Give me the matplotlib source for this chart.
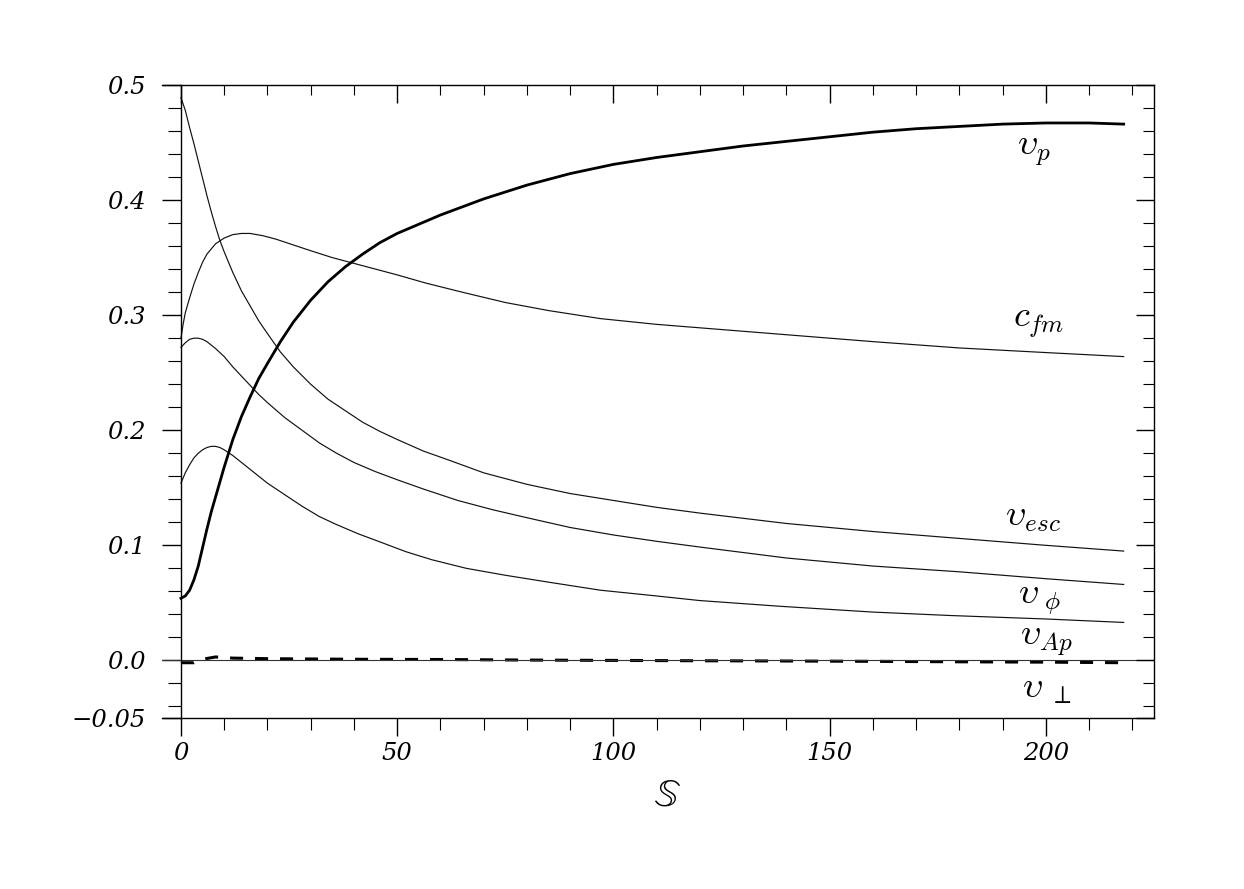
import matplotlib
matplotlib.use("Agg")
import matplotlib.pyplot as plt
from matplotlib.ticker import FixedLocator

plt.rcParams['mathtext.fontset'] = 'cm'
plt.rcParams['lines.scale_dashes'] = False

# ---- data ----
vp_x = [0, 1, 2, 3, 4, 5, 6, 7, 8, 9, 10, 12, 14, 16, 18, 20, 23, 26, 30, 34, 38, 42, 46, 50, 55, 60, 65, 70, 75, 80, 90, 100, 110, 120, 130, 140, 150, 160, 170, 180, 190, 200, 210, 218]
vp_y = [0.054, 0.056, 0.061, 0.070, 0.082, 0.098, 0.114, 0.129, 0.142, 0.155, 0.168, 0.192, 0.212, 0.229, 0.245, 0.258, 0.277, 0.294, 0.313, 0.329, 0.342, 0.353, 0.363, 0.371, 0.379, 0.387, 0.394, 0.401, 0.407, 0.413, 0.423, 0.431, 0.437, 0.442, 0.447, 0.451, 0.455, 0.459, 0.462, 0.464, 0.466, 0.467, 0.467, 0.466]

cfm_x = [0, 0.5, 1, 2, 3, 4, 5, 6, 8, 10, 12, 14, 16, 19, 22, 26, 30, 35, 40, 45, 50, 56.5, 65, 75, 85, 97, 110, 120, 140, 160, 180, 200, 218]
cfm_y = [0.280, 0.292, 0.302, 0.315, 0.327, 0.337, 0.346, 0.353, 0.362, 0.367, 0.370, 0.371, 0.371, 0.369, 0.366, 0.361, 0.356, 0.350, 0.345, 0.340, 0.335, 0.328, 0.320, 0.311, 0.304, 0.297, 0.292, 0.289, 0.283, 0.277, 0.2715, 0.2675, 0.264]

vesc_x = [0, 1, 2, 3, 4, 5, 6, 7, 8, 9, 10, 12, 14, 16, 18, 20, 23, 26, 30, 34, 38, 42, 46, 50, 56, 62, 70, 80, 90, 100, 110, 120, 140, 160, 180, 200, 218]
vesc_y = [0.489, 0.478, 0.463, 0.449, 0.434, 0.419, 0.404, 0.390, 0.377, 0.365, 0.355, 0.337, 0.321, 0.308, 0.295, 0.284, 0.268, 0.255, 0.240, 0.227, 0.217, 0.207, 0.199, 0.192, 0.182, 0.174, 0.163, 0.153, 0.145, 0.139, 0.133, 0.128, 0.119, 0.112, 0.106, 0.100, 0.095]

vphi_x = [0, 1, 2, 3, 4, 5, 6, 7, 8, 10, 12, 14, 16, 18, 20, 24, 28, 32, 36, 40, 45, 50, 56, 64, 72, 80, 90, 100, 110, 120, 140, 160, 180, 200, 218]
vphi_y = [0.272, 0.276, 0.279, 0.280, 0.280, 0.279, 0.277, 0.274, 0.271, 0.264, 0.255, 0.247, 0.239, 0.231, 0.224, 0.211, 0.200, 0.189, 0.180, 0.172, 0.164, 0.157, 0.149, 0.139, 0.131, 0.124, 0.1155, 0.109, 0.1035, 0.0985, 0.089, 0.082, 0.077, 0.071, 0.066]

vap_x = [0, 1, 2, 3, 4, 5, 6, 7, 8, 9, 10, 12, 14, 16, 18, 20, 24, 28, 32, 36, 41, 46, 52, 58, 66, 75, 85, 97, 110, 120, 138.7, 160, 178, 200, 218]
vap_y = [0.154, 0.163, 0.170, 0.176, 0.180, 0.183, 0.185, 0.186, 0.186, 0.185, 0.183, 0.178, 0.172, 0.166, 0.160, 0.154, 0.144, 0.134, 0.125, 0.118, 0.110, 0.103, 0.0945, 0.0875, 0.080, 0.074, 0.068, 0.061, 0.056, 0.052, 0.047, 0.042, 0.039, 0.036, 0.033]

vperp_x = [0, 3, 5, 8, 12, 20, 40, 60, 80, 100, 120, 140, 160, 180, 200, 218]
vperp_y = [-0.002, -0.002, 0.001, 0.003, 0.002, 0.0015, 0.001, 0.0008, 0.0003, 0.0, -0.0003, -0.0005, -0.0008, -0.0012, -0.0015, -0.002]

curve_labels = [r'$\upsilon_p$', r'$c_{fm}$', r'$\upsilon_{esc}$', r'$\upsilon_{\ \phi}$', r'$\upsilon_{Ap}$', r'$\upsilon_{\ \perp}$']
label_x = [193.3, 192.4, 190.6, 193.6, 194.0, 194.5]
label_y = [0.4426, 0.2930, 0.1243, 0.0522, 0.0165, -0.0252]

x_major = [0, 50, 100, 150, 200]
x_minor = [v for v in range(10, 230, 10) if v % 50 != 0]
y_major = [-0.05, 0.0, 0.1, 0.2, 0.3, 0.4, 0.5]
y_major_labels = ['\u22120.05', '0.0', '0.1', '0.2', '0.3', '0.4', '0.5']
y_minor = [round(-0.04 + 0.02 * i, 2) for i in range(27)]

XLIM = (-4.39, 225)
YLIM = (-0.05, 0.5)

fig = plt.figure(figsize=(12.44, 8.89), dpi=100)
rect = [0.1302, 0.1924, 0.7974, 0.712]
ax = fig.add_axes(rect)

thin = dict(color='#111111', lw=0.85)
ax.plot(vesc_x, vesc_y, **thin)
ax.plot(cfm_x, cfm_y, **thin)
ax.plot(vphi_x, vphi_y, **thin)
ax.plot(vap_x, vap_y, **thin)
ax.plot(vp_x, vp_y, color='black', lw=2.0)
ax.plot(vperp_x, vperp_y, color='black', lw=2.2, dashes=(9.4, 8.6))
ax.axhline(0, color='#333333', lw=0.8)

ax.set_xlim(*XLIM)
ax.set_ylim(*YLIM)
ax.spines['left'].set_position(('data', 0))
for s in ax.spines.values():
    s.set_linewidth(1.0)

ax.xaxis.set_major_locator(FixedLocator(x_major))
ax.xaxis.set_minor_locator(FixedLocator(x_minor))
ax.yaxis.set_major_locator(FixedLocator(y_major))
ax.yaxis.set_minor_locator(FixedLocator(y_minor))
ax.set_yticklabels(y_major_labels)
ax.set_xticklabels([str(v) for v in x_major])

ax.tick_params(axis='x', which='major', direction='out', length=13, width=1, top=False, bottom=True, pad=4)
ax.tick_params(axis='x', which='minor', direction='out', length=8.6, width=0.8, top=False, bottom=True)
ax.tick_params(axis='y', which='major', direction='out', length=13.7, width=1, left=True, right=False, pad=12)
ax.tick_params(axis='y', which='minor', direction='out', length=9.4, width=0.8, left=True, right=False)

for lab in ax.get_xticklabels() + ax.get_yticklabels():
    lab.set_fontfamily('DejaVu Serif')
    lab.set_fontstyle('italic')
    lab.set_fontsize(17.5)

# overlay axes for inward top/right ticks
ax2 = fig.add_axes(rect)
ax2.set_xlim(*XLIM)
ax2.set_ylim(*YLIM)
ax2.patch.set_visible(False)
for s in ax2.spines.values():
    s.set_visible(False)
ax2.xaxis.set_major_locator(FixedLocator(x_major))
ax2.xaxis.set_minor_locator(FixedLocator(x_minor))
ax2.yaxis.set_major_locator(FixedLocator(y_major))
ax2.yaxis.set_minor_locator(FixedLocator(y_minor))
ax2.tick_params(axis='both', which='both', direction='in', bottom=False, left=False,
                top=True, right=True, labelbottom=False, labelleft=False)
ax2.tick_params(axis='x', which='major', length=13, width=1)
ax2.tick_params(axis='x', which='minor', length=7.2, width=0.8)
ax2.tick_params(axis='y', which='major', length=13, width=1)
ax2.tick_params(axis='y', which='minor', length=8, width=0.8)

for t, lx, ly in zip(curve_labels, label_x, label_y):
    ax.text(lx, ly, t, fontsize=26, ha='left', va='center', color='black')

ax.set_xlabel(r'$\mathbb{S}$', fontsize=28, math_fontfamily='stix', va='center')
ax.xaxis.set_label_coords(0.509, -0.1216)

fig.savefig('out.png', dpi=100)
